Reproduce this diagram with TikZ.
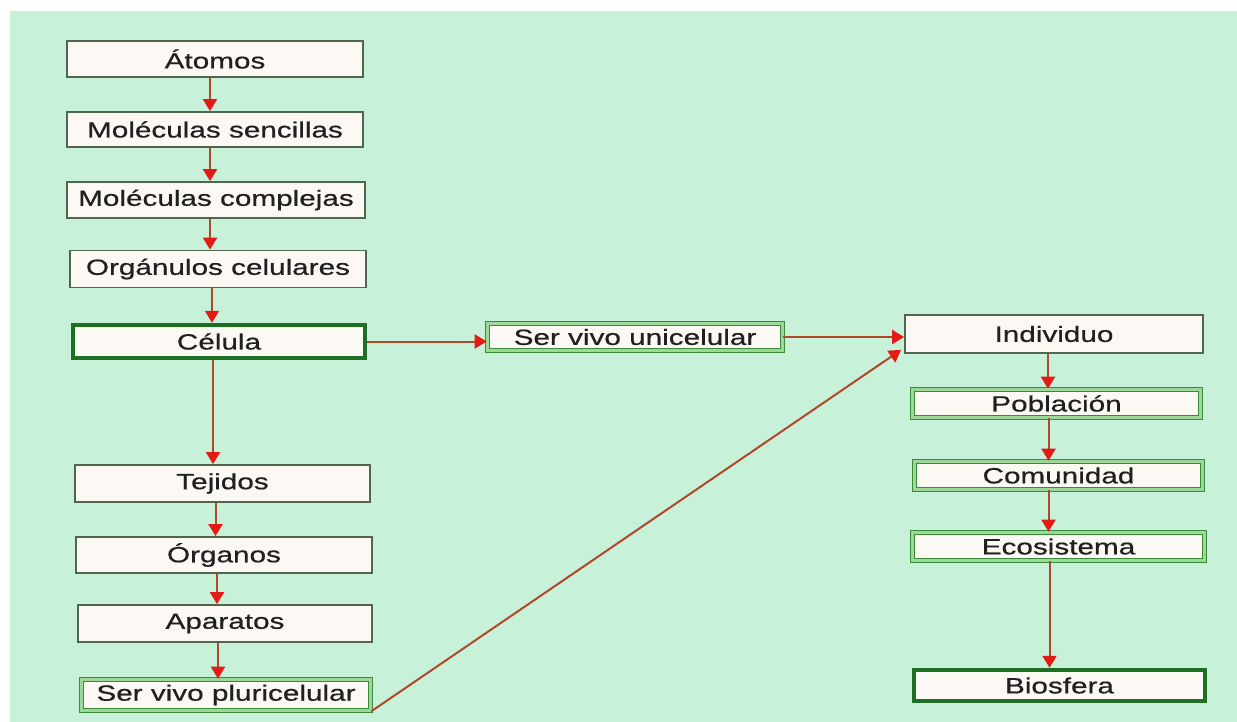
\documentclass[tikz,border=0pt]{standalone}
\usepackage{fontspec}
\setmainfont[FakeStretch=1.35,FakeBold=0.6]{Liberation Sans}
\usetikzlibrary{arrows.meta}
\definecolor{bggreen}{HTML}{C8F1DA}
\definecolor{boxfill}{HTML}{FCF8F4}
\definecolor{thinline}{HTML}{50664F}
\definecolor{darkgreen}{HTML}{1E6E24}
\definecolor{midgreen}{HTML}{3A8A3A}
\definecolor{lightgreen}{HTML}{9CD898}
\definecolor{shaft}{HTML}{B0482A}
\definecolor{headred}{HTML}{E41A14}
\definecolor{txt}{HTML}{202020}
\tikzset{
  box/.style={draw=thinline, line width=1.8pt, fill=boxfill, minimum width=296pt, minimum height=36pt,
    inner sep=0pt, font=\fontsize{22}{24}\selectfont, text=txt},
  thickbox/.style={box, draw=darkgreen, line width=4.5pt},
  dblbox/.style={box, draw=midgreen, line width=1.6pt, double=lightgreen, double distance=2.4pt},
  arr/.style={draw=shaft, line width=2pt, -{Triangle[width=14pt,length=12pt,color=headred]}},
}
\begin{document}
\begin{tikzpicture}[x=1pt,y=-1pt]
\useasboundingbox (0,0) rectangle (1237,722);
\fill[white] (0,0) rectangle (1237,722);
\fill[bggreen] (10,11) rectangle (1237,722);

% left column
\node[box] (atomos) at (215,59) {Átomos};
\node[box, minimum height=35pt] (msenc) at (215,129.5) {Moléculas sencillas};
\node[box, minimum width=298pt] (mcomp) at (216,200) {Moléculas complejas};
\node[box, minimum height=37pt] (organ) at (218,269) {Orgánulos celulares};
\node[thickbox, minimum width=292pt, minimum height=33pt] (celula) at (219,341.5) {Célula};
\node[box, minimum width=295pt, minimum height=37pt] (tejidos) at (222.5,483.5) {Tejidos};
\node[box] (organos) at (224,555) {Órganos};
\node[box, minimum width=294pt, minimum height=37pt] (aparatos) at (225,623.5) {Aparatos};
\node[dblbox, minimum width=289pt, minimum height=31pt] (pluri) at (226,695) {Ser vivo pluricelular};

% middle
\node[dblbox, minimum width=295pt, minimum height=27pt] (unicel) at (635,337) {Ser vivo unicelular};

% right column
\node[box, minimum width=298pt, minimum height=38pt] (individuo) at (1054,334) {Individuo};
\node[dblbox, minimum width=288pt, minimum height=28pt] (poblacion) at (1056.5,403.5) {Población};
\node[dblbox, minimum width=288pt, minimum height=28pt] (comunidad) at (1058.5,475.5) {Comunidad};
\node[dblbox, minimum width=292pt, minimum height=28pt] (ecosistema) at (1058.5,546.5) {Ecosistema};
\node[thickbox, minimum width=291pt, minimum height=31pt] (biosfera) at (1059.5,685.5) {Biosfera};

% vertical arrows left
\draw[arr] ([xshift=-5pt]atomos.south) -- ([xshift=-5pt]atomos.south |- msenc.north);
\draw[arr] ([xshift=-5pt]msenc.south) -- ([xshift=-5pt]msenc.south |- mcomp.north);
\draw[arr] ([xshift=-6pt]mcomp.south) -- ([xshift=-6pt]mcomp.south |- organ.north);
\draw[arr] ([xshift=-6pt]organ.south) -- ([xshift=-6pt]organ.south |- celula.north);
\draw[arr] ([xshift=-6pt]celula.south) -- ([xshift=-6pt]celula.south |- tejidos.north);
\draw[arr] ([xshift=-7pt]tejidos.south) -- ([xshift=-7pt]tejidos.south |- organos.north);
\draw[arr] ([xshift=-7pt]organos.south) -- ([xshift=-7pt]organos.south |- aparatos.north);
\draw[arr] ([xshift=-7pt]aparatos.south) -- ([xshift=-7pt]aparatos.south |- pluri.north);

% horizontal arrows
\draw[arr] (celula.east) -- (celula.east -| unicel.west);
\draw[arr] (unicel.east) -- (unicel.east -| individuo.west);
\draw[arr] (pluri.south east) -- ([shift={(-3,-4)}]individuo.south west);

% vertical arrows right
\draw[arr] ([xshift=-6pt]individuo.south) -- ([xshift=-6pt]individuo.south |- poblacion.north);
\draw[arr] ([xshift=-8pt]poblacion.south) -- ([xshift=-8pt]poblacion.south |- comunidad.north);
\draw[arr] ([xshift=-10pt]comunidad.south) -- ([xshift=-10pt]comunidad.south |- ecosistema.north);
\draw[arr] ([xshift=-9pt]ecosistema.south) -- ([xshift=-9pt]ecosistema.south |- biosfera.north);
\end{tikzpicture}
\end{document}
